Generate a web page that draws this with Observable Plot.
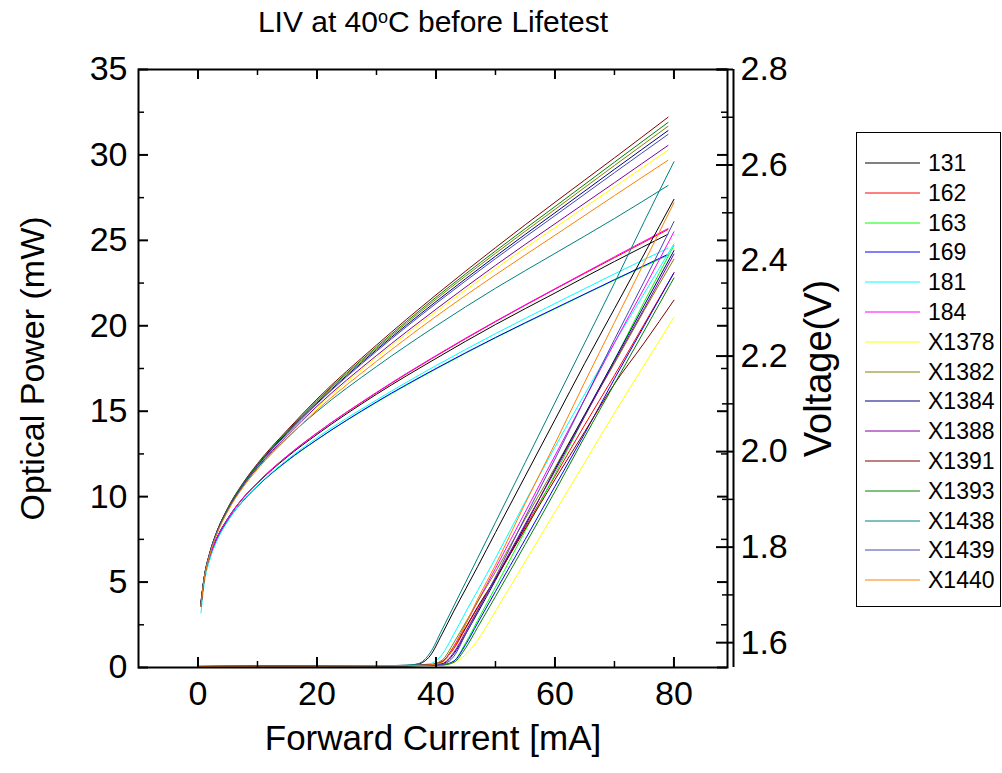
<!DOCTYPE html>
<html>
<head>
<meta charset="utf-8">
<script src="https://cdn.jsdelivr.net/npm/d3@7"></script>
<script src="https://cdn.jsdelivr.net/npm/@observablehq/plot@0.6"></script>
<style>
  body { margin: 0; background: #fff; font-family: "Liberation Sans", Arial, sans-serif; }
  #wrap { position: relative; width: 1002px; height: 773px; background: #fff; }
  #chart { position: absolute; left: 0; top: 0; }
  #title { position: absolute; left: 0; top: 7px; width: 866px; text-align: center; font-size: 30px; line-height: 30px; color: #000; }
  #title sup { font-size: 0.6em; vertical-align: 0.5em; line-height: 0; }
  #legend { position: absolute; left: 856px; top: 132px; width: 145px; height: 475px; border: 1px solid #000; box-sizing: border-box; background: #fff; }
</style>
</head>
<body>
<div id="wrap">
  <div id="chart"></div>
  <div id="title">LIV at 40<sup>o</sup>C before Lifetest</div>
  <div id="legend"></div>
</div>
<script>
// ---- data ----
const devices = ["131","162","163","169","181","184","X1378","X1382","X1384","X1388","X1391","X1393","X1438","X1439","X1440"];
const colors  = ["#000000","#FF0000","#00FF00","#0000FF","#00FFFF","#FF00FF","#FFFF00","#808000","#000080","#8000A0","#800000","#008000","#008080","#4646B4","#FF8000"];

// Optical power (mW) vs forward current (mA)
const currentL = [0,10,20,30,35,37,39,41,43,45,47,50,55,60,65,70,75,80];
const powerL = [
  [0.06,0.07,0.08,0.10,0.13,0.20,0.68,1.94,3.30,4.60,5.90,7.90,11.2,14.5,17.8,21.0,24.2,27.4], // 131
  [0.06,0.07,0.08,0.09,0.11,0.12,0.15,0.35,1.10,2.30,3.50,5.20,8.20,11.2,14.2,17.1,20.1,23.1], // 162
  [0.06,0.07,0.08,0.09,0.10,0.11,0.12,0.15,0.38,1.45,2.75,4.70,8.00,11.3,14.7,18.0,21.4,24.7], // 163
  [0.06,0.07,0.08,0.09,0.10,0.11,0.12,0.15,0.37,1.35,2.60,4.45,7.50,10.6,13.7,16.9,20.0,23.1], // 169
  [0.06,0.07,0.08,0.10,0.12,0.15,0.22,0.75,1.95,3.25,4.50,6.40,9.70,12.9,16.0,19.0,21.9,24.8], // 181
  [0.06,0.07,0.08,0.10,0.11,0.13,0.16,0.33,1.25,2.55,3.85,5.80,9.10,12.4,15.7,19.0,22.2,25.5], // 184
  [0.06,0.07,0.08,0.09,0.10,0.10,0.11,0.13,0.30,0.75,1.60,3.30,6.20,9.10,12.0,14.9,17.7,20.5], // X1378
  [0.06,0.07,0.08,0.10,0.11,0.13,0.17,0.42,1.45,2.65,3.85,5.60,8.70,11.7,14.8,17.8,20.9,23.9], // X1382
  [0.06,0.07,0.08,0.09,0.10,0.12,0.14,0.20,0.80,1.97,3.20,5.10,8.30,11.6,14.8,18.0,21.2,24.4], // X1384
  [0.06,0.07,0.08,0.10,0.10,0.12,0.14,0.22,0.88,2.10,3.35,5.20,8.40,11.5,14.7,17.9,21.0,24.2], // X1388
  [0.06,0.07,0.08,0.10,0.11,0.13,0.16,0.32,1.20,2.35,3.55,5.20,8.10,11.0,13.8,16.6,19.0,21.5], // X1391
  [0.06,0.07,0.08,0.09,0.10,0.11,0.12,0.14,0.30,1.15,2.35,4.15,7.20,10.3,13.5,16.6,19.7,22.8], // X1393
  [0.06,0.07,0.08,0.10,0.13,0.22,0.85,2.20,3.60,5.00,6.40,8.50,12.0,15.5,19.0,22.5,26.1,29.6], // X1438
  [0.06,0.07,0.08,0.09,0.10,0.12,0.14,0.18,0.65,1.95,3.30,5.30,8.80,12.2,15.7,19.2,22.6,26.1], // X1439
  [0.06,0.07,0.08,0.10,0.11,0.12,0.15,0.30,1.20,2.55,4.00,6.00,9.60,13.1,16.7,20.2,23.7,27.2]  // X1440
];

// Voltage (V) vs forward current (mA)
const currentV = [0.5,1,2,3,5,7.5,10,15,20,30,40,50,60,70,79];
const voltageV = [
  [1.686,1.733,1.783,1.815,1.860,1.902,1.934,1.989,2.036,2.120,2.195,2.266,2.332,2.398,2.455], // 131
  [1.684,1.731,1.781,1.814,1.859,1.901,1.935,1.991,2.039,2.123,2.200,2.272,2.340,2.406,2.465], // 162
  [1.681,1.729,1.779,1.811,1.855,1.896,1.928,1.980,2.025,2.103,2.173,2.238,2.299,2.359,2.411], // 163
  [1.682,1.730,1.780,1.812,1.856,1.896,1.928,1.981,2.025,2.104,2.174,2.239,2.300,2.360,2.413], // 169
  [1.662,1.719,1.774,1.808,1.854,1.897,1.929,1.983,2.029,2.108,2.180,2.247,2.310,2.372,2.426], // 181
  [1.683,1.731,1.781,1.814,1.859,1.902,1.935,1.991,2.039,2.124,2.201,2.273,2.341,2.408,2.467], // 184
  [1.675,1.728,1.786,1.824,1.877,1.927,1.966,2.032,2.092,2.197,2.293,2.383,2.469,2.554,2.631], // X1378
  [1.676,1.729,1.786,1.825,1.879,1.930,1.971,2.041,2.105,2.216,2.319,2.415,2.507,2.599,2.681], // X1382
  [1.680,1.733,1.789,1.827,1.880,1.930,1.971,2.040,2.102,2.213,2.314,2.409,2.500,2.591,2.672], // X1384
  [1.676,1.729,1.787,1.825,1.878,1.927,1.967,2.034,2.095,2.201,2.298,2.390,2.477,2.563,2.641], // X1388
  [1.680,1.733,1.789,1.827,1.882,1.933,1.975,2.045,2.110,2.223,2.328,2.427,2.522,2.615,2.700], // X1391
  [1.679,1.732,1.788,1.826,1.881,1.932,1.973,2.043,2.107,2.219,2.323,2.420,2.513,2.606,2.689], // X1393
  [1.678,1.730,1.787,1.824,1.877,1.927,1.966,2.029,2.084,2.178,2.263,2.342,2.415,2.488,2.557], // X1438
  [1.678,1.731,1.788,1.825,1.879,1.930,1.970,2.038,2.100,2.210,2.310,2.404,2.494,2.584,2.664], // X1439
  [1.677,1.729,1.785,1.822,1.875,1.924,1.963,2.028,2.087,2.189,2.283,2.370,2.453,2.536,2.610]  // X1440
];

// axes
const xDomain = [-10, 89];
const xTicks = [0, 20, 40, 60, 80];
const xMinor = [10, 30, 50, 70];
const pDomain = [0, 35];
const pTicks = [0, 5, 10, 15, 20, 25, 30, 35];
const pMinor = [2.5, 7.5, 12.5, 17.5, 22.5, 27.5, 32.5];
const vDomain = [1.548, 2.8];
const vTicks = [1.6, 1.8, 2.0, 2.2, 2.4, 2.6, 2.8];
const vMinor = [1.7, 1.9, 2.1, 2.3, 2.5, 2.7];

// ---- build ----
const W = 1002, H = 773;
const mL = 138, mR = 275, mT = 69, mB = 106;
const PW = W - mL - mR, PH = H - mT - mB;
const k = (pDomain[1] - pDomain[0]) / (vDomain[1] - vDomain[0]);
const vToP = v => (v - vDomain[0]) * k + pDomain[0];
const pToV = p => (p - pDomain[0]) / k + vDomain[0];

const rowsL = devices.flatMap((d, i) => currentL.map((c, j) => ({device: d, I: c, P: powerL[i][j]})));
const rowsV = devices.flatMap((d, i) => currentV.map((c, j) => ({device: d, I: c, P: vToP(voltageV[i][j])})));

const chart = Plot.plot({
  width: W, height: H,
  marginLeft: mL, marginRight: mR, marginTop: mT, marginBottom: mB,
  x: {domain: xDomain},
  y: {domain: pDomain},
  color: {domain: devices, range: colors},
  style: {fontFamily: '"Liberation Sans", Arial, sans-serif', fontSize: "34px", color: "#000", background: "#fff"},
  marks: [
    Plot.line(rowsV, {x: "I", y: "P", z: "device", stroke: "device", strokeWidth: 1, curve: "monotone-x"}),
    Plot.line(rowsL, {x: "I", y: "P", z: "device", stroke: "device", strokeWidth: 1, curve: "monotone-x"}),
    Plot.frame({stroke: "#000", strokeWidth: 2}),
    // left / right(mirrored) power ticks, inward
    Plot.ruleY(pTicks, {insetRight: PW - 10, stroke: "#000", strokeWidth: 2}),
    Plot.ruleY(pMinor, {insetRight: PW - 6, stroke: "#000", strokeWidth: 1.5}),
    Plot.ruleY(pTicks, {insetLeft: PW - 10, stroke: "#000", strokeWidth: 2}),
    Plot.ruleY(pMinor, {insetLeft: PW - 6, stroke: "#000", strokeWidth: 1.5}),
    // bottom / top current ticks, inward
    Plot.ruleX(xTicks, {insetTop: PH - 10, stroke: "#000", strokeWidth: 2}),
    Plot.ruleX(xMinor, {insetTop: PH - 6, stroke: "#000", strokeWidth: 1.5}),
    Plot.ruleX(xTicks, {insetBottom: PH - 10, stroke: "#000", strokeWidth: 2}),
    Plot.ruleX(xMinor, {insetBottom: PH - 6, stroke: "#000", strokeWidth: 1.5}),
    // voltage axis (offset right)
    Plot.ruleX([xDomain[1]], {dx: 6, stroke: "#000", strokeWidth: 2}),
    Plot.ruleY(vTicks.map(vToP), {insetLeft: PW - 17, dx: 6, stroke: "#000", strokeWidth: 2}),
    Plot.ruleY(vMinor.map(vToP), {insetLeft: PW - 11, dx: 6, stroke: "#000", strokeWidth: 1.5}),
    // tick labels
    Plot.axisX({ticks: xTicks, anchor: "bottom", tickSize: 0, tickPadding: 13, label: null}),
    Plot.axisY({ticks: pTicks, anchor: "left", tickSize: 0, tickPadding: 11, label: null}),
    Plot.axisY({ticks: vTicks.map(vToP), anchor: "right", tickSize: 0, tickPadding: 13, label: null,
                tickFormat: p => pToV(p).toFixed(1)}),
    // axis titles
    Plot.text(["Forward Current [mA]"], {text: d => d, frameAnchor: "bottom", dy: 82, textAnchor: "middle", fontSize: 35}),
    Plot.text(["Optical Power (mW)"], {text: d => d, frameAnchor: "left", dx: -105, rotate: -90, textAnchor: "middle", fontSize: 34}),
    Plot.text(["Voltage(V)"], {text: d => d, frameAnchor: "right", dx: 91, rotate: -90, textAnchor: "middle", fontSize: 38})
  ]
});
document.getElementById("chart").appendChild(chart);

// legend
const leg = document.getElementById("legend");
devices.forEach((d, i) => {
  const row = document.createElement("div");
  row.style.cssText = `position:absolute;left:0;top:${15 + i * 29.8}px;height:30px;width:100%;`;
  row.innerHTML = `<svg width="70" height="30" style="position:absolute;left:0;top:0"><line x1="8" x2="63" y1="15" y2="15" stroke="${colors[i]}" stroke-width="1"/></svg>` +
    `<span style="position:absolute;left:71px;top:0;line-height:30px;font-size:23px;color:#000">${d}</span>`;
  leg.appendChild(row);
});
</script>
</body>
</html>
